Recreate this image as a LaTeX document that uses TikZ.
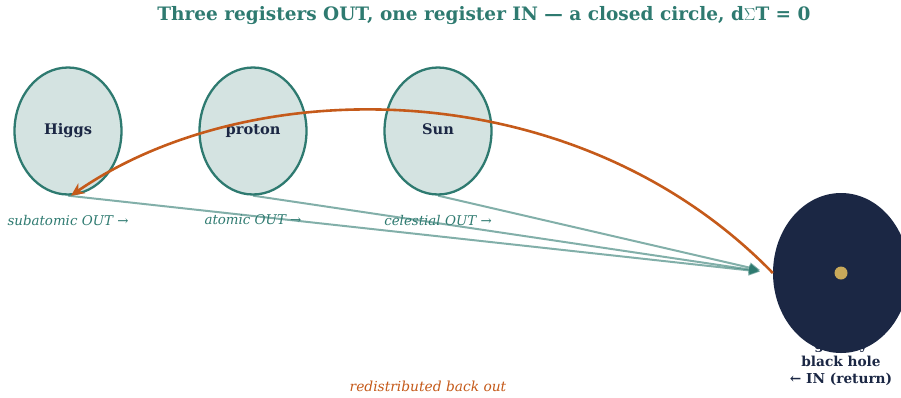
\documentclass[tikz,border=0pt]{standalone}
\usepackage{fontspec}
\setmainfont{DejaVu Serif}
\usetikzlibrary{arrows.meta,shapes.geometric}

\definecolor{teal1}{HTML}{2E7A70}
\definecolor{tealfill}{HTML}{D4E3E1}
\definecolor{navy}{HTML}{1B2744}
\definecolor{rust}{HTML}{C55A1A}
\definecolor{gold}{HTML}{C9A95A}

\begin{document}
\begin{tikzpicture}[
			x = 1pt, y = -1pt, % pixel-like units
			out line/.style = {teal1, draw opacity=0.6, line width=2pt, -{Triangle[length=11pt,width=10pt]}, shorten > = 13pt},
			back line/.style = {rust, line width=2.6pt, -{Stealth[length=13pt,width=12pt]}},
			reg label/.style = {teal1, font=\fontsize{13.4}{15}\selectfont\itshape}
			]
			
			\tikzstyle{register}=[
			ellipse,
			draw = teal1,
			line width = 2.3pt,
			fill = tealfill,
			minimum width = 107pt,
			minimum height = 127pt,
			inner sep = 0pt,
			text = navy,
			text height = 10pt,
			text depth = 3pt,
			font = \fontsize{14.6}{16}\selectfont\bfseries
			]
			
			\useasboundingbox (0,0) rectangle (901,397);
			
			\node[teal1, font=\fontsize{18.5}{20}\selectfont\bfseries] (title) at (484,16) {Three registers OUT, one register IN --- a closed circle, d$\Sigma$T = 0};
			
			\node[register] (higgs) at (68,131) {Higgs};
			\node[register] (proton) at (253,131) {proton};
			\node[register] (sun) at (438,131) {Sun};
			
			\node[reg label] (sublbl) at (68,220) {subatomic OUT →};
			\node[reg label] (atomlbl) at (253,220) {atomic OUT →};
			\node[reg label] (cellbl) at (438,220) {celestial OUT →};
			
			% text under the black hole
			\node[navy, align=center, font=\fontsize{13.7}{17}\selectfont\bfseries] (bhtext) at (841,362) {gravity\\black hole\\← IN (return)};
			\node[ellipse, fill=navy, minimum width=136pt, minimum height=160pt, inner sep=0pt] (bh) at (841,273) {};
			\node[circle, fill=gold, minimum size=13pt, inner sep=0pt] (core) at (bh.center) {};
			
			\draw[out line] (higgs.south) -- (bh.west);
			\draw[out line] (proton.south) -- (bh.west);
			\draw[out line] (sun.south) -- (bh.west);
			
			\draw[back line] (bh.west) .. controls (575,70) and (250,72) .. ([xshift=3pt]higgs.south);
			
			\node[rust, font=\fontsize{13.8}{15}\selectfont\itshape] (backlbl) at (428,386) {redistributed back out};
		\end{tikzpicture}
\end{document}
